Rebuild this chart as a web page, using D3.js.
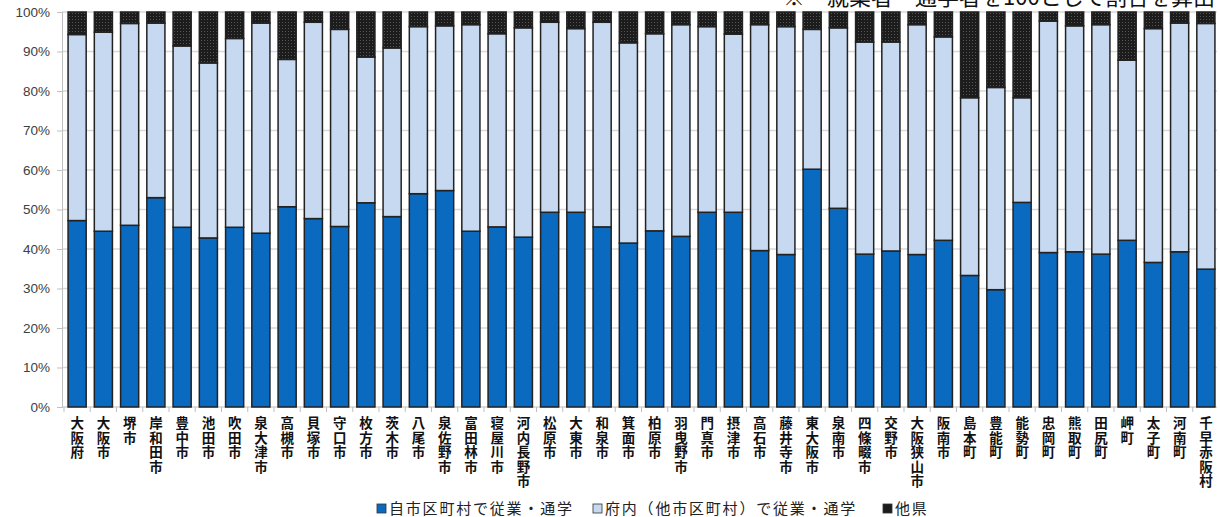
<!DOCTYPE html>
<html>
<head>
<meta charset="utf-8">
<script src="https://cdn.jsdelivr.net/npm/d3@7"></script>
<style>
  body { margin: 0; background: #fff; }
  svg { display: block; font-family: "DejaVu Sans", Verdana, sans-serif; }
  .cjk { font-family: "Noto Sans CJK JP", sans-serif; }
</style>
</head>
<body>
<div id="chart"></div>
<script>
/***********************************************************************/
//Data
/***********************************************************************/
const cities = ['大阪府','大阪市','堺市','岸和田市','豊中市','池田市','吹田市','泉大津市','高槻市','貝塚市',
  '守口市','枚方市','茨木市','八尾市','泉佐野市','富田林市','寝屋川市','河内長野市','松原市','大東市',
  '和泉市','箕面市','柏原市','羽曳野市','門真市','摂津市','高石市','藤井寺市','東大阪市','泉南市',
  '四條畷市','交野市','大阪狭山市','阪南市','島本町','豊能町','能勢町','忠岡町','熊取町','田尻町',
  '岬町','太子町','河南町','千早赤阪村']

// 自市区町村で従業・通学 (%)
const ownCity = [47.2,44.5,46.0,53.0,45.5,42.8,45.5,44.0,50.7,47.7,
  45.7,51.7,48.2,54.0,54.8,44.5,45.6,43.0,49.3,49.3,
  45.6,41.5,44.6,43.2,49.3,49.3,39.6,38.6,60.2,50.3,
  38.7,39.5,38.6,42.2,33.3,29.7,51.8,39.1,39.3,38.7,
  42.2,36.6,39.3,34.9]

// 他県 (%)
const otherPref = [5.7,5.1,2.9,2.8,8.6,12.9,6.7,2.8,12.0,2.6,
  4.4,11.4,9.1,3.7,3.5,3.2,5.5,4.0,2.6,4.2,
  2.6,7.8,5.5,3.2,3.7,5.6,3.2,3.7,4.4,4.0,
  7.6,7.6,3.2,6.3,21.7,19.1,21.7,2.3,3.5,3.2,
  12.2,4.2,2.8,2.9]

// 府内（他市区町村）で従業・通学 = remainder
const inPref = ownCity.map((d, i) => +(100 - d - otherPref[i]).toFixed(1))

const seriesKeys = ['own', 'inPref', 'other']
const seriesNames = ['自市区町村で従業・通学', '府内（他市区町村）で従業・通学', '他県']
const yTickValues = d3.range(0, 101, 10)
const note = '※　就業者・通学者を100として割合を算出'

const rows = cities.map((c, i) => ({ city: c, own: ownCity[i], inPref: inPref[i], other: otherPref[i] }))

/***********************************************************************/
//Plot Area
/***********************************************************************/
const width = 1220
const height = 517
const margin = { left: 62, right: 3, top: 12, bottom: 110 }
const plotW = width - margin.left - margin.right
const plotH = height - margin.top - margin.bottom

const svg = d3.select('#chart').append('svg')
  .attr('width', width)
  .attr('height', height)

const defs = svg.append('defs')
const pat = defs.append('pattern')
  .attr('id', 'dots')
  .attr('width', 3)
  .attr('height', 3)
  .attr('patternUnits', 'userSpaceOnUse')
pat.append('rect').attr('width', 3).attr('height', 3).attr('fill', '#1c1c1c')
pat.append('rect').attr('x', 1).attr('y', 1).attr('width', 1).attr('height', 1).attr('fill', '#555')

const colors = { own: '#0a6ac0', inPref: '#c6d9f0', other: 'url(#dots)' }

const g = svg.append('g')
  .attr('transform', 'translate(' + margin.left + ',' + margin.top + ')')

/***********************************************************************/
//Scale
/***********************************************************************/
const xScale = d3.scaleBand()
  .domain(cities)
  .range([2, plotW + 2])
  .paddingInner(0.31)
  .paddingOuter(0.155)

const yScale = d3.scaleLinear()
  .domain([0, 100])
  .range([plotH, 0])

/***********************************************************************/
//Axes
/***********************************************************************/
g.append('g')
  .selectAll('line')
  .data(yTickValues.filter(d => d > 0))
  .join('line')
  .attr('x1', 0)
  .attr('x2', plotW)
  .attr('y1', d => yScale(d))
  .attr('y2', d => yScale(d))
  .attr('stroke', '#d9d9d9')
  .attr('stroke-width', 1.5)

const yAxis = d3.axisLeft(yScale)
  .tickValues(yTickValues)
  .tickFormat(d => d + '%')
  .tickSize(5)
  .tickPadding(7)

const yAxisG = g.append('g').call(yAxis)
yAxisG.selectAll('text')
  .attr('font-size', '13.5px')
  .attr('fill', '#404040')
yAxisG.selectAll('line, path').attr('stroke', '#bfbfbf')

// category separators on the x axis
g.append('line')
  .attr('x1', 0).attr('x2', plotW)
  .attr('y1', plotH).attr('y2', plotH)
  .attr('stroke', '#bfbfbf')

g.append('g')
  .selectAll('line')
  .data(cities)
  .join('line')
  .attr('x1', d => xScale(d) - xScale.step() * xScale.paddingInner() / 2)
  .attr('x2', d => xScale(d) - xScale.step() * xScale.paddingInner() / 2)
  .attr('y1', plotH)
  .attr('y2', plotH + 5)
  .attr('stroke', '#bfbfbf')

/***********************************************************************/
//Bars
/***********************************************************************/
const stack = d3.stack().keys(seriesKeys)
const stacked = stack(rows)

g.append('g')
  .selectAll('g')
  .data(stacked)
  .join('g')
  .attr('fill', d => colors[d.key])
  .selectAll('rect')
  .data(d => d)
  .join('rect')
  .attr('x', d => xScale(d.data.city))
  .attr('y', d => yScale(d[1]))
  .attr('width', xScale.bandwidth())
  .attr('height', d => yScale(d[0]) - yScale(d[1]))
  .attr('stroke', '#222')
  .attr('stroke-width', 1.5)

/***********************************************************************/
//Category labels (vertical)
/***********************************************************************/
const labels = g.append('g').attr('class', 'cjk')
  .selectAll('text')
  .data(cities)
  .join('text')
  .attr('x', d => xScale(d) + xScale.bandwidth() / 2)
  .attr('y', plotH + 21)
  .attr('text-anchor', 'middle')
  .attr('font-size', '13.5px')
  .attr('font-weight', 'bold')
  .attr('fill', '#111')

labels.selectAll('tspan')
  .data(d => Array.from(d))
  .join('tspan')
  .attr('x', function() { return d3.select(this.parentNode).attr('x') })
  .attr('dy', (d, i) => i === 0 ? 0 : 14.5)
  .text(d => d)

/***********************************************************************/
//Legend
/***********************************************************************/
const legendX = [377, 593, 883]
const legend = svg.append('g').attr('class', 'cjk')
  .selectAll('g')
  .data(seriesKeys)
  .join('g')
  .attr('transform', (d, i) => 'translate(' + legendX[i] + ',' + 502 + ')')

legend.append('rect')
  .attr('width', 9)
  .attr('height', 9)
  .attr('y', 2)
  .attr('fill', d => d === 'other' ? '#1c1c1c' : colors[d])
  .attr('stroke', '#333')
  .attr('stroke-width', 0.8)

legend.append('text')
  .attr('x', 12)
  .attr('y', 12)
  .attr('font-size', '15px')
  .attr('letter-spacing', '1.8px')
  .attr('fill', '#222')
  .text((d, i) => seriesNames[i])

// note at the top right, cut off by the page edge as in the source
svg.append('text')
  .attr('class', 'cjk')
  .attr('x', 1215)
  .attr('y', 5)
  .attr('text-anchor', 'end')
  .attr('font-size', '22px')
  .attr('fill', '#111')
  .text(note)
</script>
</body>
</html>
